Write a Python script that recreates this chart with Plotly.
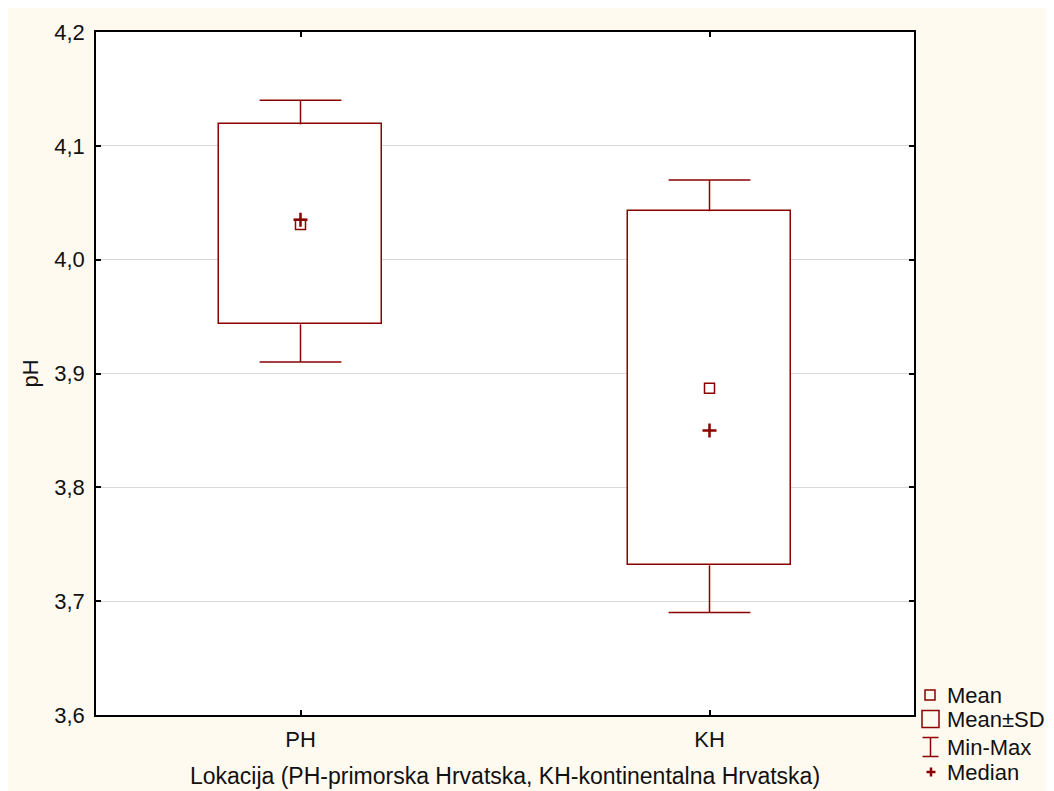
import plotly.graph_objects as go

categories = ["PH", "KH"]
means = [4.031, 3.887]
sds = [0.0878, 0.1555]
mins = [3.91, 3.69]
maxs = [4.14, 4.07]
medians = [4.035, 3.85]

y_ticks = [3.6, 3.7, 3.8, 3.9, 4.0, 4.1, 4.2]
legend_labels = ["Mean", "Mean±SD", "Min-Max", "Median"]

RED = "#8b0000"
CREAM = "#fffaf0"
FONT = "Arial"
FS = 22
xs = list(range(len(categories)))

fig = go.Figure()

# Mean ± SD boxes
fig.add_trace(go.Bar(
    x=xs,
    base=[m - s for m, s in zip(means, sds)],
    y=[2 * s for s in sds],
    width=0.4,
    marker=dict(color="white", line=dict(color=RED, width=1.5)),
    showlegend=False, hoverinfo="skip",
))

# whiskers (min-max)
wx, wy = [], []
cap = 0.1
for i, (m, s, lo, hi) in enumerate(zip(means, sds, mins, maxs)):
    wx += [i, i, None, i - cap, i + cap, None, i, i, None, i - cap, i + cap, None]
    wy += [m + s, hi, None, hi, hi, None, m - s, lo, None, lo, lo, None]
fig.add_trace(go.Scatter(x=wx, y=wy, mode="lines", line=dict(color=RED, width=1.5),
                         showlegend=False, hoverinfo="skip"))

# mean
fig.add_trace(go.Scatter(x=xs, y=means, mode="markers",
                         marker=dict(symbol="square-open", size=10, color=RED, line=dict(width=1.5)),
                         showlegend=False))
# median
fig.add_trace(go.Scatter(x=xs, y=medians, mode="markers",
                         marker=dict(symbol="cross-thin", size=10, color=RED, line=dict(width=2.5, color=RED)),
                         showlegend=False))

# custom legend
L, T, R, B = 96, 32, 914, 715
PW, PH_ = R - L, B - T
def px_x(p):
    return (p - L) / PW
def px_y(p):
    return (B - p) / PH_

shapes = []
def pshape(cx, cy, x0, y0, x1, y1, kind="line", width=1.5):
    d = dict(type=kind, xref="paper", yref="paper",
             xsizemode="pixel", ysizemode="pixel",
             xanchor=px_x(cx), yanchor=px_y(cy),
             x0=x0, x1=x1, y0=y0, y1=y1,
             line=dict(color=RED, width=width))
    if kind == "rect":
        d["fillcolor"] = "rgba(0,0,0,0)"
    shapes.append(d)

centers_y = [695, 719, 747, 772]
pshape(930, centers_y[0], -5, -5, 5, 5, "rect")
pshape(930.5, centers_y[1], -8.5, -8.5, 8.5, 8.5, "rect")
pshape(930.5, centers_y[2], 0, -9.5, 0, 9.5)
pshape(930.5, centers_y[2], -8, 9.5, 8, 9.5)
pshape(930.5, centers_y[2], -8, -9.5, 8, -9.5)
pshape(931, centers_y[3], -4.5, 0, 4.5, 0, width=2.5)
pshape(931, centers_y[3], 0, -4.5, 0, 4.5, width=2.5)

annotations = []
for lab, cy in zip(legend_labels, centers_y):
    annotations.append(dict(text=lab, xref="paper", yref="paper", x=px_x(945), y=px_y(cy),
                            xanchor="left", yanchor="middle", showarrow=False,
                            font=dict(size=FS, color="#111")))

fig.update_layout(
    width=1046, height=783,
    margin=dict(l=L - 8, r=1054 - R, t=T - 8, b=791 - B, pad=0, autoexpand=False),
    paper_bgcolor=CREAM, plot_bgcolor="white",
    font=dict(family=FONT, size=FS, color="#111"),
    separators=",.",
    shapes=shapes, annotations=annotations,
    bargap=0,
)
fig.update_xaxes(
    range=[-0.5, 1.5], tickvals=xs, ticktext=categories,
    tickfont=dict(size=FS), automargin=False,
    ticks="inside", ticklen=5, tickcolor="black", tickwidth=1.5,
    showline=True, linecolor="black", linewidth=1.5, mirror="allticks",
    showgrid=False, zeroline=False, ticklabelstandoff=4,
    title=dict(text="Lokacija (PH-primorska Hrvatska, KH-kontinentalna Hrvatska)", standoff=17,
               font=dict(size=23)),
)
fig.update_yaxes(
    range=[3.6, 4.2], tickvals=y_ticks, tickformat=".1f",
    tickfont=dict(size=FS), automargin=False,
    ticks="inside", ticklen=5, tickcolor="black", tickwidth=1.5,
    showline=True, linecolor="black", linewidth=1.5, mirror="allticks",
    showgrid=True, gridcolor="#d9d9d9", gridwidth=1, zeroline=False,
    ticklabelstandoff=5,
    title=dict(text="pH", standoff=10, font=dict(size=FS)),
)

fig.write_html("out.html")
